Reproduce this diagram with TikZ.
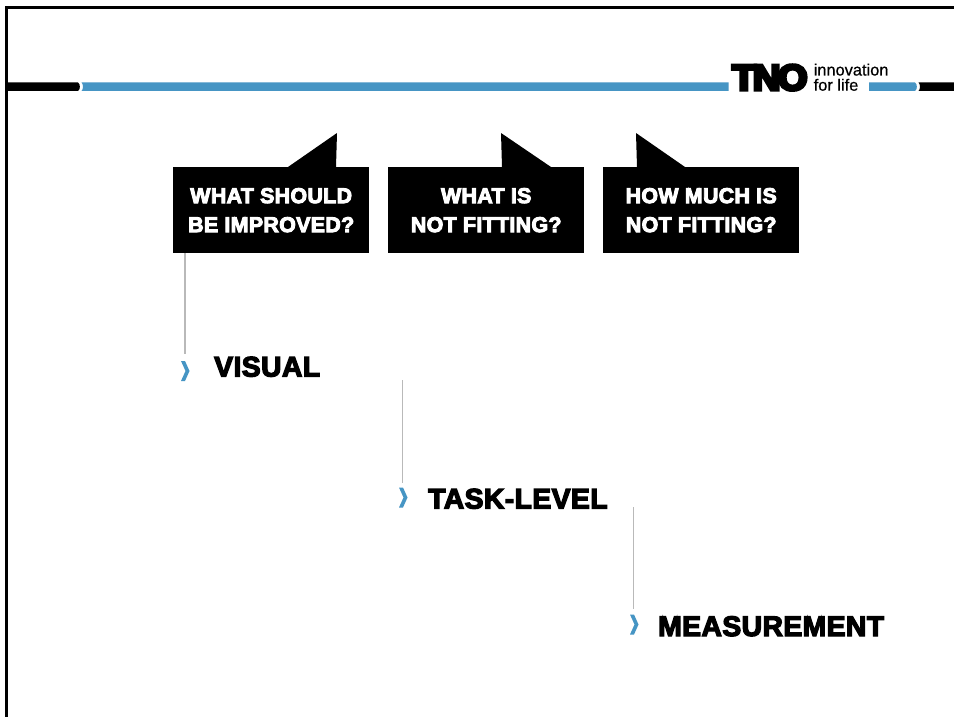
\documentclass[tikz,border=0pt]{standalone}
\usepackage{fontspec}
\setmainfont{Liberation Sans}
\newfontfamily\heavy[FakeBold=4.5,LetterSpace=1.5]{Liberation Sans Bold}
\newfontfamily\logofont[FakeBold=9]{Liberation Sans Bold}
\newfontfamily\logotext[FakeBold=0.6]{Liberation Sans}
\definecolor{tnoblue}{HTML}{4695C4}
\definecolor{connGrey}{HTML}{B9B9B9}
\tikzset{
  callbox/.style={fill=black,text=white,minimum width=196pt,minimum height=86pt,inner sep=0pt,anchor=north west,align=center,font=\heavy\fontsize{21.4}{29}\selectfont},
  callptr/.style={fill=black},
  levellabel/.style={anchor=base west,inner sep=0pt,font=\heavy\fontsize{28.3}{30}\selectfont,text=black},
  conn/.style={draw=connGrey,line width=1.1pt},
  chev/.style={fill=tnoblue},
}
\begin{document}
\begin{tikzpicture}[x=1pt,y=-1pt]
\useasboundingbox (0,0) rectangle (954,717);
\fill[white] (0,0) rectangle (954,717);
% frame
\fill[black] (5,6) rectangle (954,9);
\fill[black] (5,6) rectangle (8,717);
% header bar
\fill[black] (5,82.5) -- (78,82.5) .. controls (80.5,84) and (80.5,89.5) .. (78,91) -- (5,91) -- cycle;
\fill[tnoblue] (81.5,82.5) -- (728.5,82.5) -- (728.5,91) -- (81.5,91) .. controls (83.5,89.5) and (83.5,84) .. (81.5,82.5) -- cycle;
\fill[tnoblue] (869,82.5) -- (915,82.5) .. controls (917.5,84) and (917.5,89.5) .. (915,91) -- (869,91) -- cycle;
\fill[black] (918.5,82.5) -- (954,82.5) -- (954,91) -- (918.5,91) .. controls (920.5,89.5) and (920.5,84) .. (918.5,82.5) -- cycle;
% logo
\node[anchor=base west,inner sep=0pt] (logo) at (732,90) {\logofont\fontsize{36}{36}\selectfont\scalebox{1.06}[1]{T\kern-2.5pt N\kern-2.5pt O}};
\node[anchor=base west,inner sep=0pt] (logoa) at (813.5,75.5) {\logotext\fontsize{16.4}{17}\selectfont innovation};
\node[anchor=base west,inner sep=0pt] (logob) at (813.5,90.7) {\logotext\fontsize{16.4}{17}\selectfont for life};
% callouts
\node[callbox] (b1) at (173,167) {WHAT SHOULD\\BE IMPROVED?};
\node[callbox] (b2) at (388,167) {WHAT IS\\NOT FITTING?};
\node[callbox] (b3) at (603,167) {HOW MUCH IS\\NOT FITTING?};
\fill[callptr] ([xshift=115pt]b1.north west) -- ([xshift=164pt,yshift=34pt]b1.north west) -- ([xshift=163pt]b1.north west) -- cycle;
\fill[callptr] ([xshift=114pt]b2.north west) -- ([xshift=113pt,yshift=34pt]b2.north west) -- ([xshift=163pt]b2.north west) -- cycle;
\fill[callptr] ([xshift=34pt]b3.north west) -- ([xshift=33pt,yshift=34pt]b3.north west) -- ([xshift=82pt]b3.north west) -- cycle;
% levels
\node[levellabel] (l1) at (214,376.5) {VISUAL};
\node[levellabel] (l2) at (428,508.5) {TASK-LEVEL};
\node[levellabel] (l3) at (658,636) {MEASUREMENT};
\coordinate (c1) at (185.5,371);
\coordinate (c2) at (403.5,497.5);
\coordinate (c3) at (634.5,624.5);
\coordinate (t2) at (402.3,380);
\coordinate (t3) at (633.3,507);
\foreach \c in {c1,c2,c3}{
  \fill[chev] ([shift={(-4.5,-10)}]\c) -- ([shift={(-0.5,-10)}]\c) -- ([shift={(4,0)}]\c) -- ([shift={(-0.5,10)}]\c) -- ([shift={(-4.5,10)}]\c) -- ([shift={(0,0)}]\c) -- cycle;
}
\draw[conn] ([xshift=12pt]b1.south west) -- (185,354);
\draw[conn] (t2) -- (402.3,483);
\draw[conn] (t3) -- (633.3,609);
\end{tikzpicture}
\end{document}
